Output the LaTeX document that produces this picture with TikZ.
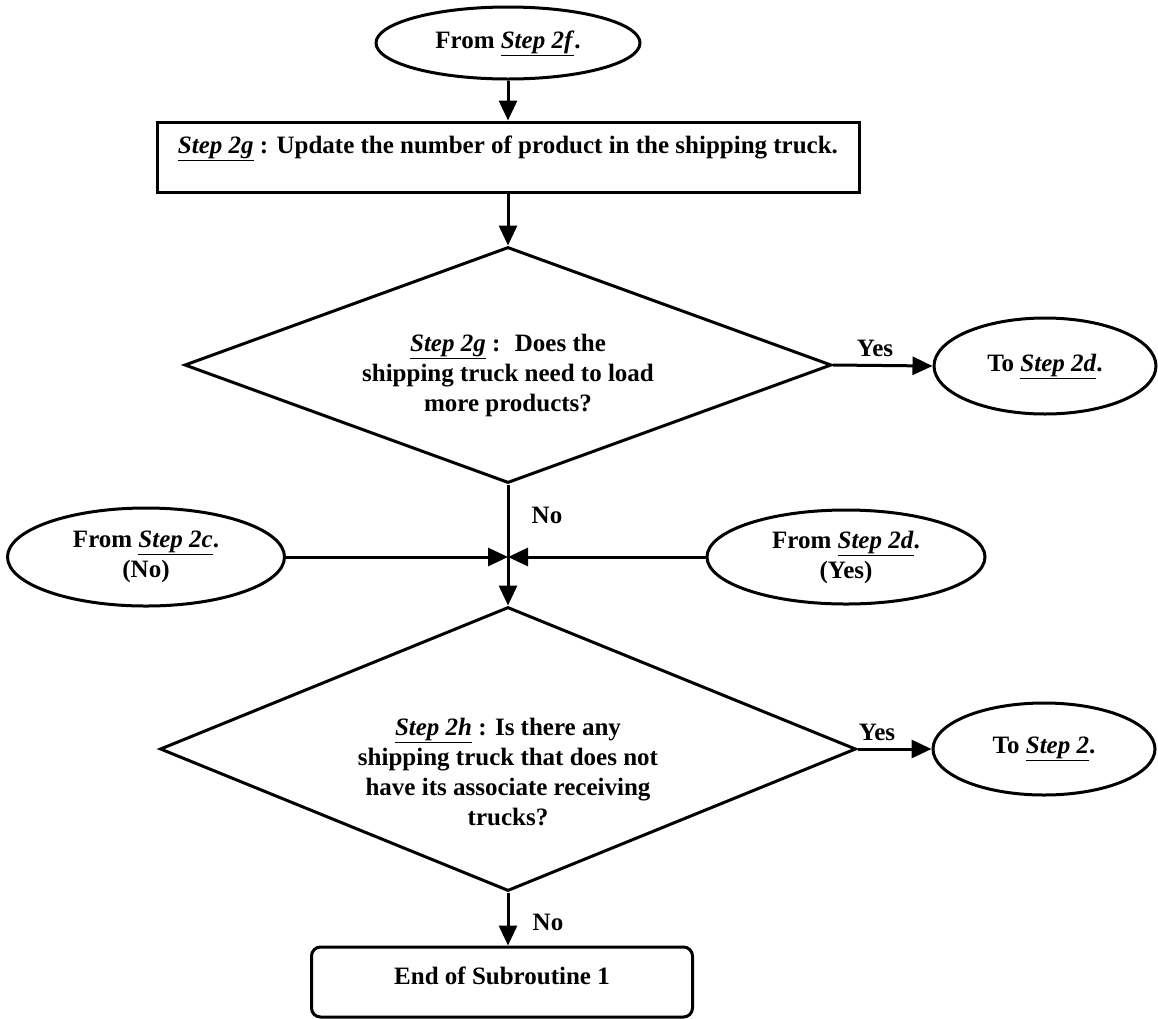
\documentclass[tikz,border=0pt]{standalone}
\usepackage{fontspec}
\setmainfont{Liberation Serif}
\usetikzlibrary{shapes.geometric,arrows.meta,calc}
% underlined italic step reference
\newcommand{\stepref}[1]{\underline{\textit{#1}}}

\begin{document}
\begin{tikzpicture}[x=1pt,y=-1pt,
  every node/.style={font=\fontsize{25}{30}\selectfont\bfseries, align=center},
  flow/.style={line width=3pt},
  arr/.style={flow, -{Triangle[length=20pt,width=18pt]}},
  oval/.style={ellipse, draw, line width=3pt, inner sep=0pt},
  decision/.style={diamond, draw, line width=3pt, inner sep=0pt},
  procbox/.style={rectangle, draw, line width=3pt},
  termbox/.style={rectangle, rounded corners=9pt, draw, line width=3pt},
  lbl/.style={inner sep=0pt}
]
\useasboundingbox (0,0) rectangle (1158,1018);

% terminals and process box
\node[oval, minimum width=264pt, minimum height=72pt] (start) at (508,43) {From \stepref{Step 2f}.};
\node[procbox, minimum width=702pt, minimum height=70pt, text depth=25pt] (upd) at (508,157)
  {\stepref{Step 2g} : Update the number of product in the shipping truck.};

% first decision
\node[decision, minimum width=647pt, minimum height=236pt] (d1) at (508,365) {};
\node (q1) at (508,375) {\stepref{Step 2g} :~ Does the\\shipping truck need to load\\more products?};
\node[oval, minimum width=222pt, minimum height=96pt] (to2d) at (1045,366) {To \stepref{Step 2d}.};

% incoming branches
\node[oval, minimum width=277pt, minimum height=98pt] (from2c) at (146,557) {From \stepref{Step 2c}.\\(No)};
\node[oval, minimum width=278pt, minimum height=94pt] (from2d) at (846,557) {From \stepref{Step 2d}.\\(Yes)};
\coordinate (J) at (508,557);

% second decision
\node[decision, minimum width=696pt, minimum height=284pt] (d2) at (508,749) {};
\node (q2) at (508,772) {\stepref{Step 2h} : Is there any\\shipping truck that does not\\have its associate receiving\\trucks?};
\node[oval, minimum width=222pt, minimum height=92pt] (to2) at (1044,749) {To \stepref{Step 2}.};

\node[termbox, minimum width=381pt, minimum height=70pt, text depth=12pt] (fin) at (502,982) {End of Subroutine 1};

% connectors
\draw[arr] (start) -- (upd);
\draw[arr] (upd) -- (d1);
\draw[arr] (d1.east) -- (to2d.west);
\draw[flow] (d1.south) -- (J);
\draw[arr] (J) -- (d2.north);
\draw[arr] (from2c.east) -- (J);
\draw[arr] (from2d.west) -- (J);
\draw[arr] (d2.east) -- (to2.west);
\draw[arr] (d2.south) -- (d2.south |- fin.north);

% branch labels
\node[lbl] (yes1) at (875,348) {Yes};
\node[lbl] (no1) at (547,515) {No};
\node[lbl] (yes2) at (877,732) {Yes};
\node[lbl] (no2) at (548,922) {No};
\end{tikzpicture}
\end{document}
